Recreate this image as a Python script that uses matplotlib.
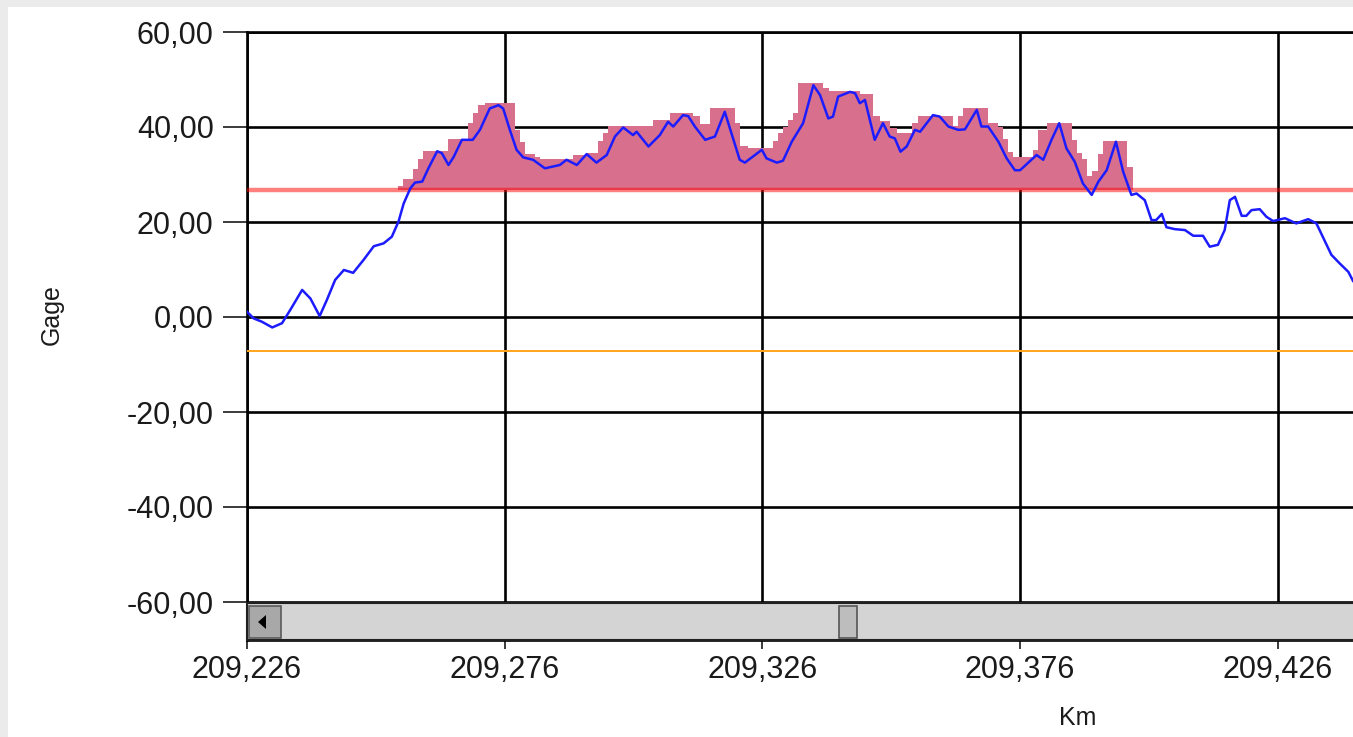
import matplotlib
matplotlib.use("Agg")
from matplotlib import pyplot as plt
from matplotlib.patches import Rectangle, Polygon

# --------- DATA ---------

# gage profile along the track (km, gage)
line_km = [
    209.2260, 209.2273, 209.2289, 209.2309, 209.2328, 209.2344, 209.2367, 209.2383, 209.2401, 209.2415,
    209.2431, 209.2448, 209.2466, 209.2486, 209.2506, 209.2525, 209.2541, 209.2554, 209.2564, 209.2577,
    209.2586, 209.2600, 209.2612, 209.2629, 209.2638, 209.2651, 209.2661, 209.2677, 209.2698, 209.2712,
    209.2731, 209.2748, 209.2757, 209.2770, 209.2783, 209.2796, 209.2815, 209.2838, 209.2867, 209.2880,
    209.2900, 209.2919, 209.2938, 209.2958, 209.2974, 209.2990, 209.3009, 209.3016, 209.3039, 209.3061,
    209.3077, 209.3087, 209.3106, 209.3116, 209.3129, 209.3149, 209.3168, 209.3187, 209.3200, 209.3216,
    209.3226, 209.3259, 209.3268, 209.3288, 209.3300, 209.3317, 209.3339, 209.3359, 209.3372, 209.3388,
    209.3397, 209.3407, 209.3430, 209.3440, 209.3449, 209.3459, 209.3478, 209.3494, 209.3507, 209.3517,
    209.3528, 209.3540, 209.3556, 209.3566, 209.3591, 209.3604, 209.3621, 209.3640, 209.3653, 209.3676,
    209.3685, 209.3698, 209.3718, 209.3734, 209.3750, 209.3760, 209.3792, 209.3805, 209.3821, 209.3836,
    209.3850, 209.3866, 209.3882, 209.3899, 209.3912, 209.3928, 209.3946, 209.3960, 209.3976, 209.3986,
    209.4002, 209.4015, 209.4024, 209.4035, 209.4044, 209.4060, 209.4080, 209.4096, 209.4115, 209.4128,
    209.4144, 209.4157, 209.4167, 209.4177, 209.4190, 209.4199, 209.4209, 209.4225, 209.4238, 209.4251,
    209.4274, 209.4296, 209.4319, 209.4335, 209.4364, 209.4380, 209.4397, 209.4406]
line_gage = [
    1.1, -0.3, -1.0, -2.2, -1.3, 1.5, 5.7, 3.9, 0.2, 3.6,
    7.8, 9.9, 9.3, 12.0, 14.9, 15.5, 16.9, 20.1, 23.9, 27.1,
    28.3, 28.5, 31.3, 34.9, 34.5, 32.0, 33.7, 37.3, 37.3, 39.4,
    43.9, 44.6, 43.9, 39.4, 35.2, 33.6, 33.1, 31.3, 32.0, 33.1,
    32.0, 34.3, 32.5, 34.1, 38.0, 39.9, 38.3, 39.0, 35.9, 38.3,
    41.1, 40.1, 42.5, 42.3, 40.1, 37.3, 38.0, 43.2, 38.7, 33.1,
    32.5, 35.2, 33.4, 32.5, 32.9, 36.9, 40.8, 48.8, 46.7, 41.8,
    42.2, 46.4, 47.4, 47.1, 45.0, 45.7, 37.3, 40.8, 38.0, 37.6,
    34.8, 35.9, 39.4, 39.0, 42.5, 42.2, 40.1, 39.4, 39.5, 43.6,
    40.1, 40.1, 36.9, 33.4, 30.9, 30.9, 34.1, 33.1, 37.3, 40.8,
    35.5, 32.7, 28.1, 25.7, 28.5, 30.9, 36.9, 30.6, 25.7, 26.0,
    24.6, 20.4, 20.4, 21.7, 18.9, 18.5, 18.3, 17.1, 17.1, 14.8,
    15.2, 18.3, 24.6, 25.3, 21.3, 21.3, 22.5, 22.7, 21.1, 20.2,
    20.8, 19.7, 20.6, 19.7, 13.1, 11.3, 9.5, 7.6]

# stepped area over the upper limit (bin edges in km, level per bin)
step_edges = [
    209.2553, 209.2563, 209.2582, 209.2592, 209.2601, 209.2650, 209.2689, 209.2698, 209.2708, 209.2722,
    209.2780, 209.2790, 209.2799, 209.2819, 209.2828, 209.2848, 209.2892, 209.2920, 209.2941, 209.2951,
    209.2960, 209.3048, 209.3081, 209.3125, 209.3139, 209.3158, 209.3207, 209.3216, 209.3232, 209.3280,
    209.3290, 209.3300, 209.3310, 209.3319, 209.3329, 209.3377, 209.3389, 209.3449, 209.3474, 209.3488,
    209.3507, 209.3521, 209.3550, 209.3562, 209.3630, 209.3639, 209.3649, 209.3698, 209.3717, 209.3727,
    209.3736, 209.3746, 209.3785, 209.3795, 209.3812, 209.3861, 209.3870, 209.3880, 209.3890, 209.3899,
    209.3911, 209.3921, 209.3967, 209.3979]
step_levels = [
    27.6, 29.0, 31.1, 33.2, 34.9, 37.5, 40.8, 42.9, 44.6, 45.1,
    39.4, 36.8, 34.3, 33.6, 33.3, 33.2, 34.2, 34.5, 37.0, 38.8,
    40.2, 41.4, 43.0, 42.3, 40.6, 44.0, 40.8, 36.0, 35.5, 37.1,
    38.7, 40.1, 41.5, 43.0, 49.3, 48.3, 47.6, 46.9, 42.4, 41.3,
    39.8, 38.8, 40.8, 42.4, 40.3, 42.4, 44.0, 40.9, 40.0, 37.5,
    34.8, 33.6, 35.2, 39.3, 40.9, 37.2, 34.6, 33.2, 29.6, 30.8,
    34.4, 37.1, 31.6]

limit_high = 26.8
limit_low = -7.2

x_ticks = [209.226, 209.276, 209.326, 209.376, 209.426]
x_labels = ["209,226", "209,276", "209,326", "209,376", "209,426"]
y_ticks = [60, 40, 20, 0, -20, -40, -60]
y_labels = ["60,00", "40,00", "20,00", "0,00", "-20,00", "-40,00", "-60,00"]

# -----------------------------------

W, H = 1353, 737
plt.rcParams['font.family'] = ['Liberation Sans', 'DejaVu Sans']

# pixel box -> figure fraction rect
def fig_rect(x0, y0, x1, y1):
    return (x0 / W, 1 - y1 / H), (x1 - x0) / W, (y1 - y0) / H

fig = plt.figure(figsize=(W / 100, H / 100), dpi=100, facecolor='#ebebeb')
xy, w, h = fig_rect(8, 7, W, H)
fig.add_artist(Rectangle(xy, w, h, transform=fig.transFigure, facecolor='white',
                         edgecolor='none', zorder=-1))

ax = fig.add_axes([247 / W, 1 - 640 / H, 1 - 247 / W, (640 - 32) / H])
ax.set_xlim(209.226, 209.4406)
ax.set_ylim(-68, 60)
ax.set_axisbelow(True)
ax.grid(True, color='black', linewidth=1.9)

ax.stairs(step_levels, step_edges, baseline=limit_high, fill=True,
          color='#d86f8d', zorder=2)
ax.axhline(limit_high, color=(1, 0, 0, 0.5), linewidth=3.2, zorder=3)
ax.axhline(limit_low, color='#ffa51c', linewidth=1.4, zorder=3)
ax.plot(line_km, line_gage, color='#1c1cff', linewidth=1.8, zorder=4)

ax.set_xticks(x_ticks)
ax.set_xticklabels(x_labels)
ax.set_yticks(y_ticks)
ax.set_yticklabels(y_labels)
ax.tick_params(axis='y', length=17, width=1.2, pad=7, labelsize=22, colors='#1a1a1a')
ax.tick_params(axis='x', length=6.5, width=1.2, pad=4, labelsize=22, colors='#1a1a1a')
ax.spines['right'].set_visible(False)
for s in ('left', 'top', 'bottom'):
    ax.spines[s].set_linewidth(1.9)

# scrollbar under the plot
xy, w, h = fig_rect(247, 603, W + 5, 640)
fig.add_artist(Rectangle(xy, w, h, transform=fig.transFigure, facecolor='#d4d4d4',
                         edgecolor='#202020', linewidth=1.5, zorder=5))
xy, w, h = fig_rect(249, 606, 281, 638)
fig.add_artist(Rectangle(xy, w, h, transform=fig.transFigure, facecolor='#a8a8a8',
                         edgecolor='#5a5a5a', linewidth=1.2, zorder=6))
tri = [(258 / W, 1 - 622 / H), (266 / W, 1 - 615 / H), (266 / W, 1 - 629 / H)]
fig.add_artist(Polygon(tri, closed=True, transform=fig.transFigure, facecolor='black',
                       edgecolor='none', zorder=7))
xy, w, h = fig_rect(839, 606, 857, 638)
fig.add_artist(Rectangle(xy, w, h, transform=fig.transFigure, facecolor='#bdbdbd',
                         edgecolor='#555555', linewidth=1.2, zorder=6))

fig.text(52 / W, 1 - 315 / H, "Gage", rotation=90, ha='center', va='center',
         fontsize=18, color='#1a1a1a')
fig.text(1078 / W, 1 - 718 / H, "Km", ha='center', va='center',
         fontsize=18, color='#1a1a1a')

fig.savefig("out.png", dpi=100, facecolor=fig.get_facecolor())
